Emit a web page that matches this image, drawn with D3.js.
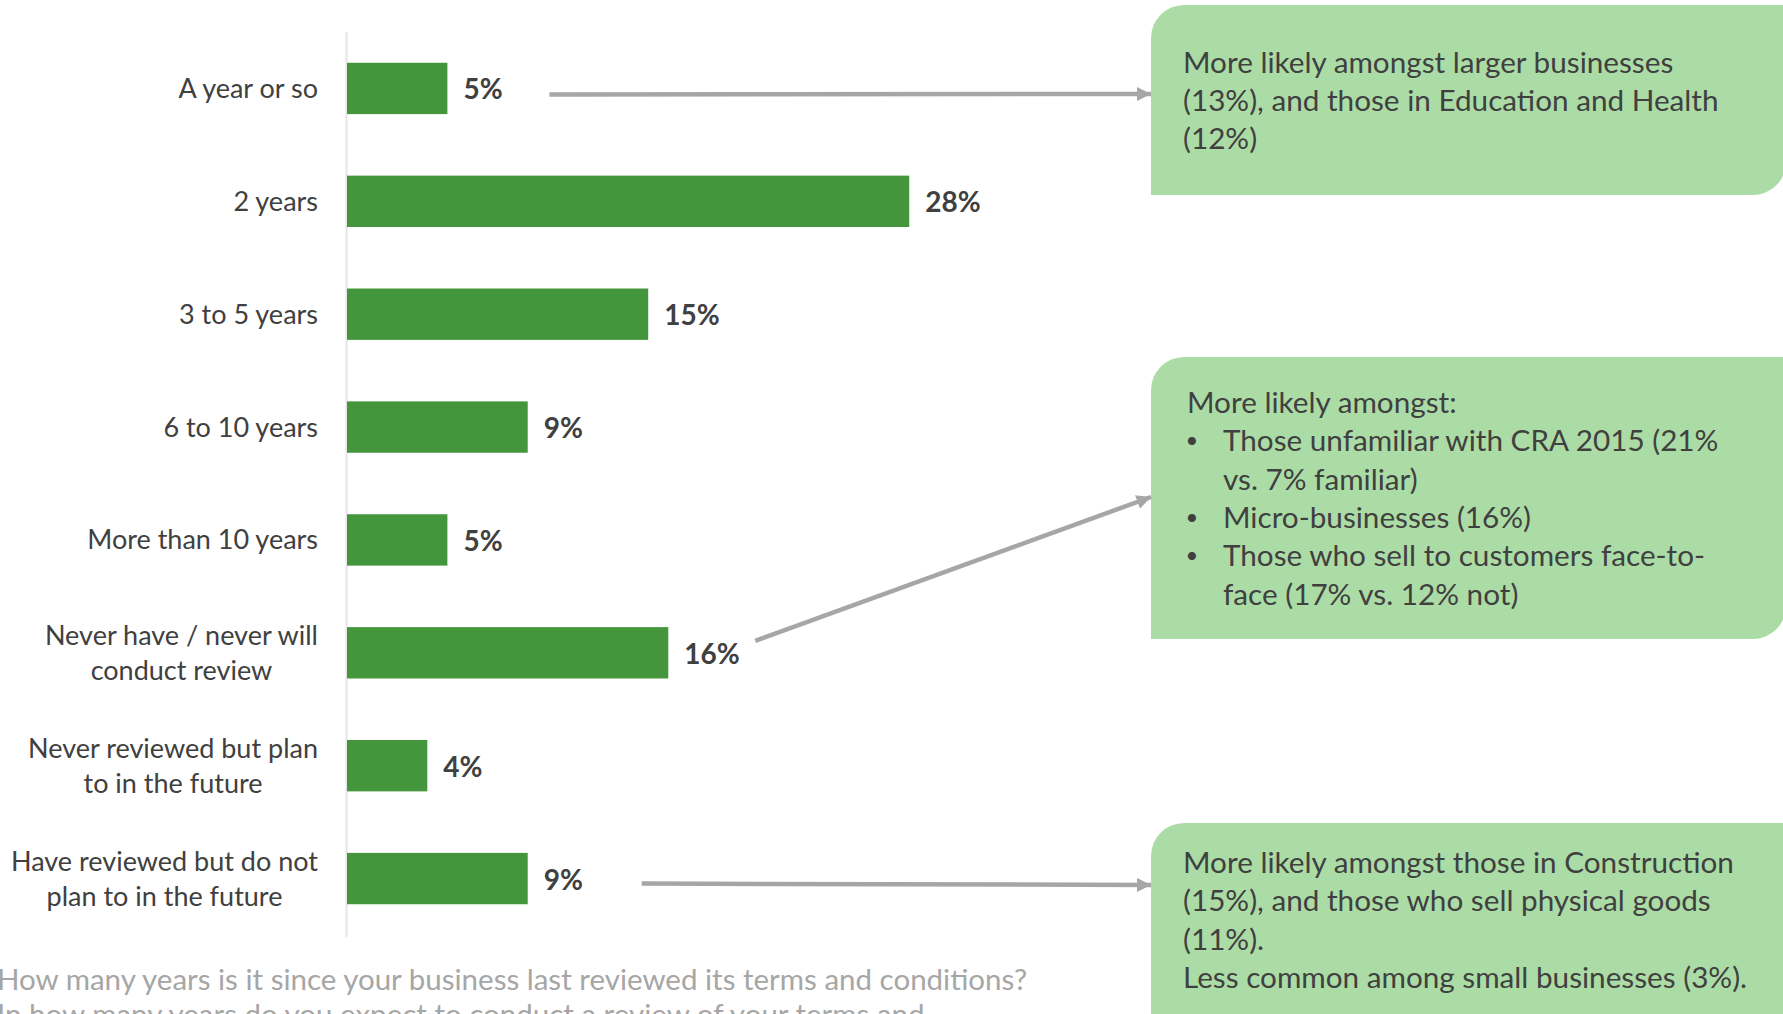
<!DOCTYPE html>
<html>
<head>
<meta charset="utf-8">
<script src="https://cdn.jsdelivr.net/npm/d3@7"></script>
<style>
  html, body { margin: 0; padding: 0; background: #ffffff; overflow: hidden; }
  svg { display: block; font-family: Lato, "Open Sans", sans-serif; }
</style>
</head>
<body>
<svg id="chart" width="1783" height="1014"></svg>
<script>
// Time since terms and conditions were last reviewed (share of businesses, %)
const categories = [
  "A year or so",
  "2 years",
  "3 to 5 years",
  "6 to 10 years",
  "More than 10 years",
  "Never have / never will\nconduct review",
  "Never reviewed but plan\nto in the future",
  "Have reviewed but do not\nplan to in the future"
];
const values = [5, 28, 15, 9, 5, 16, 4, 9];
const valueLabels = ["5%", "28%", "15%", "9%", "5%", "16%", "4%", "9%"];

// Side notes, each tied to one category
const noteCategories = [categories[0], categories[5], categories[7]];
const noteIntro = [
  ["More likely amongst larger businesses", "(13%), and those in Education and Health", "(12%)"],
  ["More likely amongst:"],
  ["More likely amongst those in Construction", "(15%), and those who sell physical goods", "(11%).", "Less common among small businesses (3%)."]
];
const noteBullets = [
  [],
  [["Those unfamiliar with CRA 2015 (21%", "vs. 7% familiar)"], ["Micro-businesses (16%)"], ["Those who sell to customers face-to-", "face (17% vs. 12% not)"]],
  []
];

const questionLines = [
  "How many years is it since your business last reviewed its terms and conditions?",
  "In how many years do you expect to conduct a review of your terms and"
];

const W = 1783, H = 1014;
const svg = d3.select("#chart");

const green = "#43963c";
const textDark = "#404040";
const arrowGrey = "#a6a6a6";
const boxFill = "#acdca6";

const x = d3.scaleLinear().domain([0, 30]).range([347, 949.4]);
const y = d3.scaleBand().domain(categories).range([32, 935])
  .paddingInner(0.545).paddingOuter(0.2725);
const bw = y.bandwidth();
const mid = c => y(c) + bw / 2;

// Category axis line
svg.append("line")
  .attr("x1", x(0) - 0.5).attr("x2", x(0) - 0.5)
  .attr("y1", y.range()[0]).attr("y2", y.range()[1] + 2)
  .attr("stroke", "#e6e6e6").attr("stroke-width", 2);

// Bars
svg.append("g").selectAll("rect")
  .data(values)
  .join("rect")
  .attr("x", x(0))
  .attr("y", (d, i) => y(categories[i]))
  .attr("width", d => x(d) - x(0))
  .attr("height", bw)
  .attr("fill", green);

// Value labels
svg.append("g").selectAll("text")
  .data(values)
  .join("text")
  .attr("x", d => x(d) + 16)
  .attr("y", (d, i) => mid(categories[i]) + 11)
  .attr("font-size", 28)
  .attr("font-weight", 700)
  .attr("fill", textDark)
  .text((d, i) => valueLabels[i]);

// Category labels: block right-aligned to the axis, lines centred within it
const labelRight = 318, labelSize = 27, labelLead = 35;
categories.forEach(c => {
  const lines = c.split("\n");
  const g = svg.append("g");
  const texts = lines.map((ln, i) => g.append("text")
    .attr("y", mid(c) + (i - (lines.length - 1) / 2) * labelLead + 9.5)
    .attr("font-size", labelSize)
    .attr("fill", textDark)
    .attr("text-anchor", "middle")
    .text(ln));
  const maxW = d3.max(texts, t => t.node().getComputedTextLength());
  texts.forEach(t => t.attr("x", labelRight - maxW / 2));
});

// Callout boxes (rounded on top-left and bottom-right corners)
const boxLeft = 1151, boxRight = 1786, radius = 33;
const boxTops = [5, 357, 823];
const boxBottoms = [195, 639, 1100];
function diagRoundRect(l, t, r, b, rad) {
  return `M${l + rad},${t} H${r} V${b - rad} A${rad},${rad} 0 0 1 ${r - rad},${b} H${l} V${t + rad} A${rad},${rad} 0 0 1 ${l + rad},${t} Z`;
}
const noteSize = 29.7, noteLead = 38.3;
const firstBaselines = [72.7, 413, 873];
const textLeft = [1183, 1187, 1183];

noteCategories.forEach((c, k) => {
  svg.append("path")
    .attr("d", diagRoundRect(boxLeft, boxTops[k], boxRight, boxBottoms[k], radius))
    .attr("fill", boxFill);
  let line = 0;
  noteIntro[k].forEach(ln => {
    svg.append("text")
      .attr("x", textLeft[k])
      .attr("y", firstBaselines[k] + noteLead * line++)
      .attr("font-size", noteSize).attr("fill", textDark)
      .text(ln);
  });
  noteBullets[k].forEach(item => {
    svg.append("text")
      .attr("x", 1192)
      .attr("y", firstBaselines[k] + noteLead * line - 3)
      .attr("font-size", 22).attr("fill", textDark)
      .attr("text-anchor", "middle")
      .text("•");
    item.forEach(ln => {
      svg.append("text")
        .attr("x", 1223)
        .attr("y", firstBaselines[k] + noteLead * line++)
        .attr("font-size", noteSize).attr("fill", textDark)
        .text(ln);
    });
  });
});

// Arrows from bar labels to the callouts
svg.append("defs").append("marker")
  .attr("id", "head")
  .attr("viewBox", "0 0 10 10")
  .attr("refX", 10).attr("refY", 5)
  .attr("markerWidth", 3.2).attr("markerHeight", 3.2)
  .attr("markerUnits", "strokeWidth")
  .attr("orient", "auto")
  .append("path")
  .attr("d", "M0,0 L10,5 L0,10 Z")
  .attr("fill", arrowGrey);

const arrowStartDx = [102, 87, 114];
const arrowStartDy = [6, -12, 5];
const arrowEndY = [94, 497, 885];
noteCategories.forEach((c, k) => {
  const i = categories.indexOf(c);
  svg.append("line")
    .attr("x1", x(values[i]) + arrowStartDx[k])
    .attr("y1", mid(c) + arrowStartDy[k])
    .attr("x2", boxLeft)
    .attr("y2", arrowEndY[k])
    .attr("stroke", arrowGrey)
    .attr("stroke-width", 4.5)
    .attr("marker-end", "url(#head)");
});

// Survey question
questionLines.forEach((q, i) => {
  svg.append("text")
    .attr("x", -3)
    .attr("y", 990 + i * 35)
    .attr("font-size", 29.5)
    .attr("fill", arrowGrey)
    .text(q);
});
</script>
</body>
</html>
